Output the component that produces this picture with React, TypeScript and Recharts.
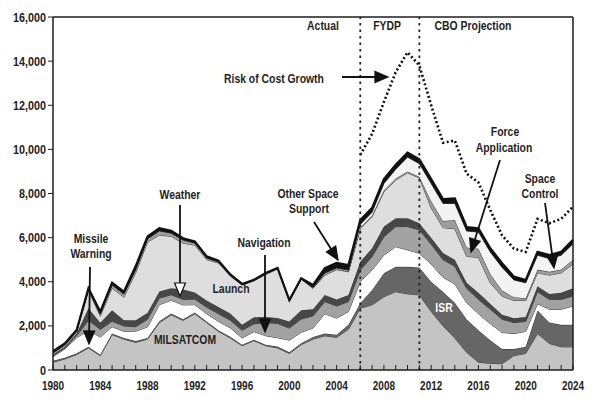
import React from "react";
import { ComposedChart, Area, Line, XAxis, YAxis, ReferenceLine } from "recharts";

// budget by mission area, stacked bottom to top
const years = [
  1980, 1981, 1982, 1983, 1984, 1985, 1986, 1987, 1988, 1989,
  1990, 1991, 1992, 1993, 1994, 1995, 1996, 1997, 1998, 1999,
  2000, 2001, 2002, 2003, 2004, 2005, 2006, 2007, 2008, 2009,
  2010, 2011, 2012, 2013, 2014, 2015, 2016, 2017, 2018, 2019,
  2020, 2021, 2022, 2023, 2024,
];

const milsatcom = [
  350, 500, 700, 1000, 650, 1600, 1400, 1250, 1400, 2150,
  2500, 2250, 2550, 2150, 1750, 1450, 1100, 1330, 1100, 1000,
  750, 1150, 1400, 1550, 1480, 1850, 2800, 2950, 3320, 3550,
  3450, 3400, 2650, 2000, 1450, 800, 350, 300, 280, 650,
  750, 1650, 1200, 1050, 1050,
];
const isr = [
  70, 50, 60, 50, 40, 60, 50, 60, 50, 60,
  60, 50, 60, 50, 50, 60, 50, 40, 50, 60,
  50, 60, 100, 100, 120, 200, 220, 680, 1060, 1130,
  1230, 1250, 1350, 1550, 1600, 1500, 1450, 1050, 670, 300,
  300, 1050, 950, 1000, 1000,
];
const missileWarning = [
  180, 400, 700, 750, 800, 300, 300, 450, 500, 750,
  600, 650, 350, 350, 400, 400, 300, 370, 400, 400,
  550, 500, 400, 900, 750, 600, 980, 900, 830, 910,
  760, 640, 800, 650, 850, 750, 750, 750, 750, 700,
  700, 300, 600, 700, 850,
];
const navigation = [
  50, 50, 100, 450, 350, 250, 250, 200, 350, 300,
  250, 250, 250, 300, 350, 350, 350, 350, 600, 650,
  550, 600, 550, 550, 550, 450, 530, 610, 830, 910,
  1060, 1060, 900, 800, 800, 650, 650, 650, 600, 500,
  450, 550, 450, 450, 450,
];
const weather = [
  50, 50, 100, 550, 300, 500, 250, 300, 300, 300,
  300, 450, 300, 300, 300, 300, 250, 300, 250, 250,
  300, 400, 300, 300, 300, 300, 380, 380, 460, 380,
  380, 300, 300, 300, 300, 250, 300, 250, 200, 200,
  200, 250, 250, 300, 350,
];
const launch = [
  50, 50, 50, 800, 300, 1000, 1050, 2150, 3200, 2550,
  2350, 2100, 2150, 1850, 2000, 1700, 1800, 1650, 1930, 2220,
  920, 1400, 950, 900, 1350, 1050, 1490, 1430, 1580, 1730,
  2060, 2050, 1350, 1150, 1400, 1200, 1600, 950, 850, 800,
  750, 600, 850, 900, 1100,
];
const forceApplication = [
  30, 50, 50, 50, 100, 150, 150, 150, 150, 200,
  150, 150, 100, 80, 50, 30, 20, 20, 30, 20,
  20, 20, 20, 30, 30, 30, 50, 50, 70, 70,
  60, 60, 300, 300, 400, 400, 400, 400, 250, 150,
  100, 150, 150, 150, 200,
];
const spaceControl = [
  0, 0, 0, 0, 0, 0, 0, 0, 0, 0,
  0, 0, 0, 0, 0, 0, 0, 0, 0, 0,
  0, 0, 20, 50, 40, 40, 150, 150, 300, 420,
  650, 590, 800, 800, 750, 750, 750, 1000, 1050, 780,
  700, 650, 600, 650, 720,
];
const otherSpaceSupport = [
  70, 50, 50, 50, 100, 100, 100, 150, 100, 120,
  100, 70, 70, 70, 50, 40, 30, 30, 40, 30,
  30, 30, 110, 240, 230, 240, 200, 200, 200, 200,
  200, 200, 200, 200, 230, 180, 170, 170, 190, 150,
  130, 160, 160, 160, 180,
];

// dotted "risk of cost growth" line, 2006 onwards
const riskStart = 2006;
const risk = [
  9750, 10700, 12150, 13500, 14400, 13800, 12000, 10300, 10400, 8900,
  8500, 7250, 6100, 5500, 5350, 6850, 6650, 6850, 7400,
];

const yTicks = [0, 2000, 4000, 6000, 8000, 10000, 12000, 14000, 16000];
const labelYears = [1980, 1984, 1988, 1992, 1996, 2000, 2004, 2008, 2012, 2016, 2020, 2024];

const data = years.map((year, i) => ({
  year,
  milsatcom: milsatcom[i],
  isr: isr[i],
  missileWarning: missileWarning[i],
  navigation: navigation[i],
  weather: weather[i],
  launch: launch[i],
  forceApplication: forceApplication[i],
  spaceControl: spaceControl[i],
  otherSpaceSupport: otherSpaceSupport[i],
  risk: year >= riskStart ? risk[year - riskStart] : null,
}));

const FONT = "'Liberation Sans', Arial, sans-serif";
const INK = "#1e1e1e";
const SQUEEZE = 0.8; // no condensed face installed, so squeeze the bold sans

const layers = [
  { key: "milsatcom", fill: "#c4c4c4" },
  { key: "isr", fill: "#666666" },
  { key: "missileWarning", fill: "#ffffff" },
  { key: "navigation", fill: "#a2a2a2" },
  { key: "weather", fill: "#474747" },
  { key: "launch", fill: "#dedede" },
  { key: "forceApplication", fill: "#9c9c9c" },
  { key: "spaceControl", fill: "#f3f3f3" },
  { key: "otherSpaceSupport", fill: "#111111" },
];

function NText({ x, y, anchor = "middle", fill = INK, size = 13, children }: any) {
  return (
    <text
      transform={`translate(${x},${y}) scale(${SQUEEZE},1)`}
      textAnchor={anchor}
      fontFamily={FONT}
      fontWeight={700}
      fontSize={size}
      fill={fill}
    >
      {children}
    </text>
  );
}

const XTick = (props: any) => {
  const { x, y, payload } = props;
  const yr = payload.value;
  return (
    <g>
      <line x1={x} x2={x} y1={y} y2={y - 5} stroke={INK} strokeWidth={1} />
      {labelYears.includes(yr) && (
        <NText x={x} y={y + 20} size={12.5}>
          {yr}
        </NText>
      )}
    </g>
  );
};

const YTick = (props: any) => {
  const { x, y, payload } = props;
  return (
    <NText x={x} y={y + 4.5} anchor="end" size={13.5}>
      {payload.value.toLocaleString("en-US")}
    </NText>
  );
};

function Arrow({ x1, y1, x2, y2, hollow }: { x1: number; y1: number; x2: number; y2: number; hollow?: boolean }) {
  const ang = Math.atan2(y2 - y1, x2 - x1);
  const len = 13;
  const half = 5.5;
  const bx = x2 - len * Math.cos(ang);
  const by = y2 - len * Math.sin(ang);
  const px = -Math.sin(ang) * half;
  const py = Math.cos(ang) * half;
  const pts = `${x2},${y2} ${bx + px},${by + py} ${bx - px},${by - py}`;
  return (
    <g>
      <line x1={x1} y1={y1} x2={bx} y2={by} stroke="#111" strokeWidth={1.8} />
      <polygon points={pts} fill={hollow ? "#fff" : "#111"} stroke="#111" strokeWidth={1.2} />
    </g>
  );
}

export default function App() {
  return (
    <div style={{ position: "relative", width: 592, height: 397 }}>
      <ComposedChart width={592} height={397} data={data} margin={{ top: 9, right: 27, bottom: 10, left: 0 }}>
        <XAxis
          dataKey="year"
          type="number"
          domain={[1980, 2024]}
          ticks={years}
          interval={0}
          tick={<XTick />}
          tickLine={false}
          tickSize={0}
          tickMargin={0}
          height={25}
          axisLine={{ stroke: INK, strokeWidth: 1.5 }}
        />
        <YAxis
          type="number"
          domain={[0, 16000]}
          ticks={yTicks}
          width={45}
          tickSize={5}
          tick={<YTick />}
          tickLine={{ stroke: INK }}
          axisLine={{ stroke: INK, strokeWidth: 1.5 }}
        />
        {layers.map((l) => (
          <Area
            key={l.key}
            dataKey={l.key}
            stackId="1"
            type="linear"
            fill={l.fill}
            fillOpacity={1}
            stroke={l.key === "otherSpaceSupport" ? "#111" : "#2a2a2a"}
            strokeWidth={l.key === "otherSpaceSupport" ? 2.2 : 0.9}
            isAnimationActive={false}
            dot={false}
            activeDot={false}
          />
        ))}
        <Line
          dataKey="risk"
          type="linear"
          stroke="#111"
          strokeWidth={2.6}
          strokeDasharray="2 2.4"
          dot={false}
          activeDot={false}
          connectNulls={false}
          isAnimationActive={false}
        />
        <ReferenceLine x={2006} stroke="#222" strokeWidth={1.8} strokeDasharray="2.5 4" />
        <ReferenceLine x={2011} stroke="#222" strokeWidth={1.8} strokeDasharray="2.5 4" />
        <ReferenceLine y={16000} stroke={INK} strokeWidth={1.5} />
        <ReferenceLine x={2024} stroke={INK} strokeWidth={1.5} />
      </ComposedChart>
      <svg
        width={600}
        height={405}
        style={{ position: "absolute", left: -8, top: -8, pointerEvents: "none" }}
      >
        <NText x={323} y={30}>Actual</NText>
        <NText x={387} y={30}>FYDP</NText>
        <NText x={473} y={30}>CBO Projection</NText>
        <NText x={224} y={83} anchor="start">Risk of Cost Growth</NText>
        <Arrow x1={342} y1={77} x2={388} y2={77} />
        <NText x={180} y={199}>Weather</NText>
        <Arrow x1={180} y1={205} x2={180} y2={296} hollow />
        <NText x={91} y={243}>Missile</NText>
        <NText x={91} y={258}>Warning</NText>
        <Arrow x1={90} y1={267} x2={89} y2={344} />
        <NText x={264} y={247}>Navigation</NText>
        <Arrow x1={265} y1={255} x2={265} y2={332} />
        <NText x={308} y={198}>Other Space</NText>
        <NText x={309} y={213}>Support</NText>
        <Arrow x1={314} y1={222} x2={338} y2={260} />
        <NText x={505} y={136}>Force</NText>
        <NText x={504} y={152}>Application</NText>
        <Arrow x1={500} y1={160} x2={471} y2={252} />
        <NText x={540} y={183}>Space</NText>
        <NText x={540} y={198}>Control</NText>
        <Arrow x1={545} y1={203} x2={554} y2={268} />
        <NText x={231} y={293}>Launch</NText>
        <NText x={185} y={344}>MILSATCOM</NText>
        <NText x={444} y={312} fill="#ffffff">ISR</NText>
      </svg>
    </div>
  );
}
